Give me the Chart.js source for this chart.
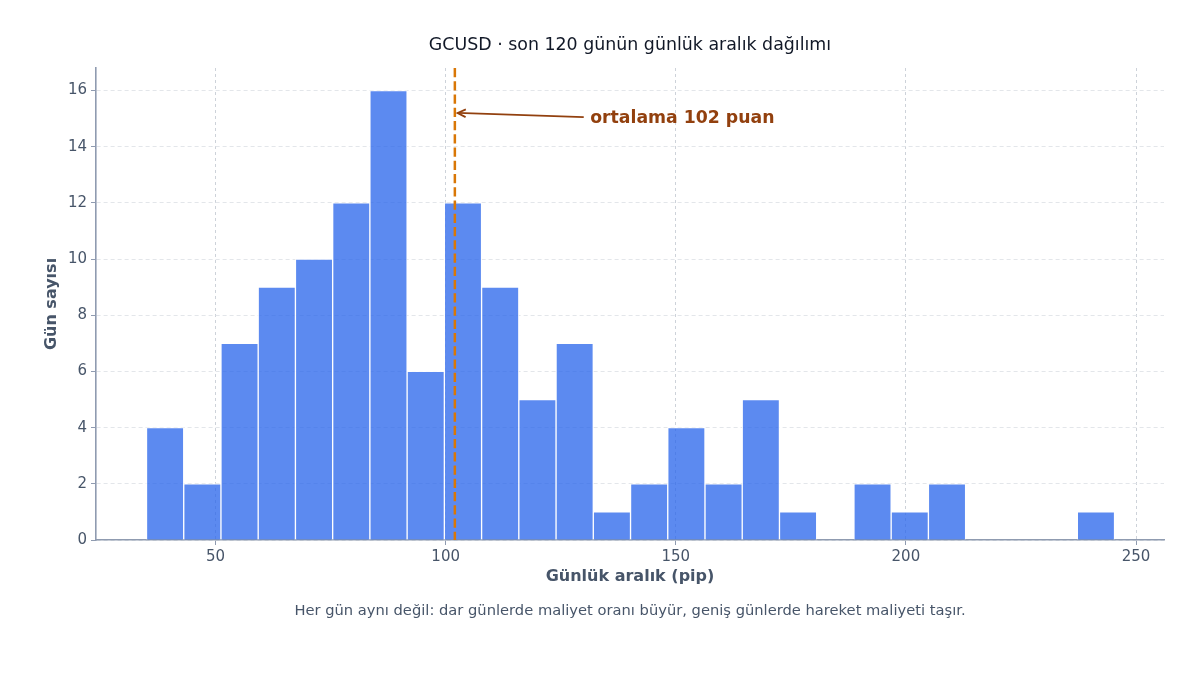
<!DOCTYPE html>
<html>
<head>
<meta charset="utf-8">
<script src="https://cdn.jsdelivr.net/npm/chart.js@4.4.0/dist/chart.umd.min.js"></script>
<style>
  html, body { margin: 0; padding: 0; background: #ffffff; }
  #wrap { width: 1200px; height: 675px; }
</style>
</head>
<body>
<div id="wrap"><canvas id="c" width="1200" height="675"></canvas></div>
<script>
// ---- data ----
const binEdges = [35.0, 43.09, 51.18, 59.27, 67.36, 75.45, 83.54, 91.63, 99.72, 107.81, 115.9, 123.99, 132.08,
                  140.17, 148.26, 156.35, 164.44, 172.53, 180.62, 188.71, 196.8, 204.89, 212.98, 221.07, 229.16,
                  237.25, 245.34];
const binCounts = [4, 2, 7, 9, 10, 12, 16, 6, 12, 9, 5, 7, 1, 2, 4, 2, 5, 1, 0, 2, 1, 2, 0, 0, 0, 1];
const xTicks = [50, 100, 150, 200, 250];
const yTicks = [0, 2, 4, 6, 8, 10, 12, 14, 16];
const xRange = [24.03, 256.08];
const meanValue = 102;
const titleText = 'GCUSD · son 120 günün günlük aralık dağılımı';
const xTitle = 'Günlük aralık (pip)';
const yTitle = 'Gün sayısı';
const captionText = 'Her gün aynı değil: dar günlerde maliyet oranı büyür, geniş günlerde hareket maliyeti taşır.';
const annotationText = 'ortalama ' + meanValue + ' puan';

// ---- derived ----
const binData = binCounts.map((c, i) => ({ x: (binEdges[i] + binEdges[i + 1]) / 2, y: c }));
const yMax = Math.max(...binCounts) * 1.05;

const FONT = "'DejaVu Sans', 'Liberation Sans', sans-serif";
const AXIS = '#8f9bb0';
const TXT = '#475569';

// annotation (label anchor in data coordinates)
const annotation = { textX: 131.4, textY: 15.0, tipX: 102.6, tipY: 15.2, tailX: 130.0, tailY: 15.05 };

const overlay = {
  id: 'overlay',
  afterDatasetsDraw(chart) {
    const { ctx, chartArea, scales } = chart;
    const xs = scales.x, ys = scales.y;
    ctx.save();
    // mean line
    const mx = xs.getPixelForValue(meanValue);
    ctx.strokeStyle = '#d97706';
    ctx.lineWidth = 2.5;
    ctx.setLineDash([9.25, 4]);
    ctx.beginPath();
    ctx.moveTo(mx, chartArea.top);
    ctx.lineTo(mx, chartArea.bottom);
    ctx.stroke();
    ctx.setLineDash([]);
    // arrow
    const tx = xs.getPixelForValue(annotation.tipX), ty = ys.getPixelForValue(annotation.tipY);
    const sx = xs.getPixelForValue(annotation.tailX), sy = ys.getPixelForValue(annotation.tailY);
    ctx.strokeStyle = '#92400e';
    ctx.lineWidth = 1.8;
    ctx.beginPath();
    ctx.moveTo(sx, sy);
    ctx.lineTo(tx, ty);
    ctx.stroke();
    const ang = Math.atan2(sy - ty, sx - tx);
    const hl = 9, hw = 0.45;
    ctx.beginPath();
    ctx.moveTo(tx + hl * Math.cos(ang + hw), ty + hl * Math.sin(ang + hw));
    ctx.lineTo(tx, ty);
    ctx.lineTo(tx + hl * Math.cos(ang - hw), ty + hl * Math.sin(ang - hw));
    ctx.stroke();
    // text
    ctx.fillStyle = '#92400e';
    ctx.font = 'bold 17.3px ' + FONT;
    ctx.textAlign = 'left';
    ctx.textBaseline = 'middle';
    ctx.fillText(annotationText, xs.getPixelForValue(annotation.textX), ys.getPixelForValue(annotation.textY));
    ctx.restore();
  }
};

new Chart(document.getElementById('c'), {
  type: 'bar',
  data: {
    datasets: [{
      data: binData,
      backgroundColor: 'rgba(37,99,235,0.75)',
      borderColor: 'rgba(255,255,255,0.85)',
      borderWidth: 1,
      barPercentage: 1.0,
      categoryPercentage: 1.0
    }]
  },
  options: {
    responsive: false,
    animation: false,
    devicePixelRatio: 1,
    layout: { padding: { left: 0, right: 36, top: 0, bottom: 0 } },
    plugins: {
      legend: { display: false },
      tooltip: { enabled: false },
      title: {
        display: true, text: titleText, fullSize: false,
        color: '#111827',
        font: { family: FONT, size: 17.4, weight: 'normal', lineHeight: 1.2 },
        padding: { top: 34.56, bottom: 12.56 }
      },
      subtitle: {
        display: true, text: captionText, position: 'bottom', fullSize: false,
        color: TXT,
        font: { family: FONT, size: 14.7, weight: 'normal', lineHeight: 1.2 },
        padding: { top: 16.18, bottom: 55.18 }
      }
    },
    scales: {
      x: {
        type: 'linear',
        offset: false,
        min: xRange[0], max: xRange[1],
        afterBuildTicks(s) { s.ticks = xTicks.map(v => ({ value: v })); },
        afterFit(s) { s.height = 46; },
        ticks: { color: TXT, font: { family: FONT, size: 15 }, padding: 3, maxRotation: 0 },
        grid: { offset: false, color: '#cdd2d9', lineWidth: 1, tickLength: 5, tickColor: AXIS, tickWidth: 1, borderDash: [3, 3] },
        border: { color: AXIS, width: 1.6, dash: [3, 3] },
        title: { display: true, text: xTitle, color: TXT, font: { family: FONT, size: 16, weight: 'bold', lineHeight: 1.2 }, padding: { top: 0, bottom: 0 } }
      },
      y: {
        min: 0, max: yMax,
        afterBuildTicks(s) { s.ticks = yTicks.map(v => ({ value: v })); },
        afterFit(s) { s.width = 96; },
        ticks: { color: TXT, font: { family: FONT, size: 15 }, padding: 4 },
        grid: { color: '#e3e6ea', lineWidth: 1, tickLength: 5, tickColor: AXIS, tickWidth: 1, borderDash: [4, 3] },
        border: { color: AXIS, width: 1.6, dash: [4, 3] },
        title: { display: true, text: yTitle, color: TXT, font: { family: FONT, size: 16, weight: 'bold', lineHeight: 1.2 }, padding: { top: 42.4, bottom: 0 } }
      }
    }
  },
  plugins: [overlay]
});
</script>
</body>
</html>
